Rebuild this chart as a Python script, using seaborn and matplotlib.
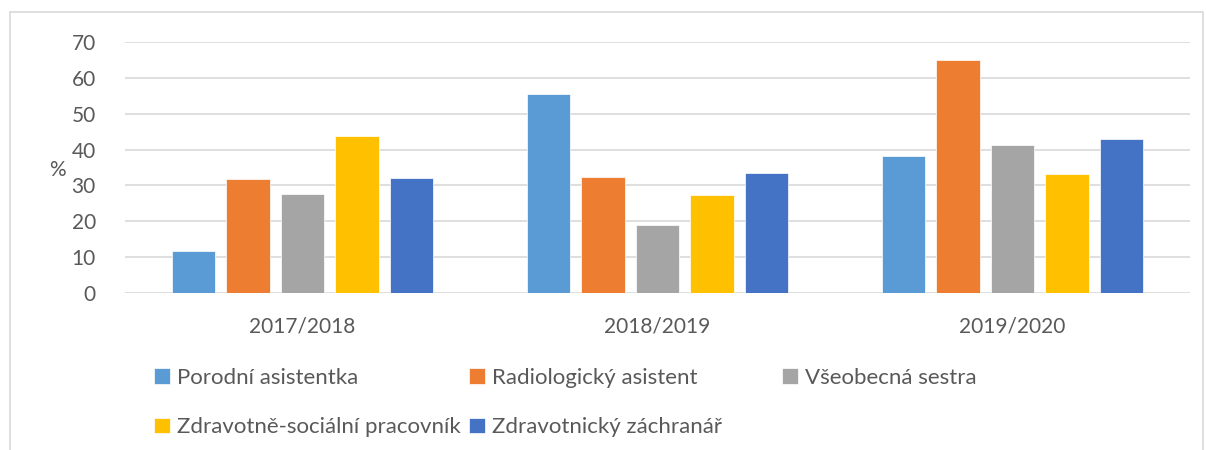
import numpy as np
import pandas as pd
import matplotlib
matplotlib.use("Agg")
import matplotlib.pyplot as plt
import seaborn as sns
from matplotlib.patches import Rectangle

# ============================================================
# DATA
# ============================================================

YEARS = ["2017/2018", "2018/2019", "2019/2020"]

PROFESSIONS = [
    "Porodní asistentka",
    "Radiologický asistent",
    "Všeobecná sestra",
    "Zdravotně-sociální pracovník",
    "Zdravotnický záchranář",
]

porodni = [11.7, 55.5, 38.1]
radiolog = [31.9, 32.4, 64.9]
vseobecna = [27.7, 19.1, 41.4]
zdrav_soc = [43.9, 27.3, 33.3]
zachranar = [32.2, 33.4, 42.9]

COLORS = ["#5B9BD5", "#ED7D31", "#A5A5A5", "#FFC000", "#4472C4"]

# ============================================================
# LONG FORM TABLE
# ============================================================

series = [porodni, radiolog, vseobecna, zdrav_soc, zachranar]
rows = []
for name, vals in zip(PROFESSIONS, series):
    for yr, v in zip(YEARS, vals):
        rows.append({"year": yr, "prof": name, "value": v})
df = pd.DataFrame(rows)

# ============================================================
# FIGURE
# ============================================================

sns.set_style("white")
plt.rcParams["font.family"] = ["Lato", "DejaVu Sans"]
TXT = "#595959"
FS_TICK = 15
FS_LEG = 16

fig = plt.figure(figsize=(12.06, 4.5), dpi=100)
ax = fig.add_axes([125 / 1206, 1 - 293 / 450, 1065 / 1206, 251 / 450])

# outer chart border
fig.patches.append(Rectangle((10 / 1206, -0.01), 1193 / 1206, 1 - 12 / 450 + 0.01,
                             transform=fig.transFigure, fill=False,
                             edgecolor="#D9D9D9", linewidth=1.2))

sns.barplot(
    data=df, x="year", y="value", hue="prof",
    order=YEARS, hue_order=PROFESSIONS,
    palette=COLORS, width=0.768, gap=0.21,
    edgecolor="white", linewidth=0.5,
    saturation=1, ax=ax,
)

ax.set_ylim(0, 70)
ax.set_yticks(np.arange(0, 71, 10))
ax.yaxis.grid(True, color="#D9D9D9", linewidth=1.2)
ax.set_axisbelow(True)
for s in ax.spines.values():
    s.set_visible(False)
ax.tick_params(axis="both", length=0, colors=TXT, labelsize=FS_TICK)
ax.tick_params(axis="x", pad=17)
ax.tick_params(axis="y", pad=21)
ax.set_xlabel("")
ax.set_ylabel("%", rotation=0, color=TXT, fontsize=FS_TICK)
ax.yaxis.set_label_coords(-0.063, 0.45)

# legend, laid out row-wise like the original in three columns
handles, labels = ax.get_legend_handles_labels()
ax.get_legend().remove()
cols = [[0, 3], [1, 4], [2]]
xs = [154 / 1206, 469 / 1206, 782 / 1206]
for x, idx in zip(xs, cols):
    leg = fig.legend(
        [handles[i] for i in idx], [labels[i] for i in idx],
        loc="upper left", bbox_to_anchor=(x, 1 - 368 / 450),
        frameon=False, fontsize=FS_LEG, handlelength=0.7, handleheight=0.7,
        handletextpad=0.35, labelspacing=1.32, borderaxespad=0, borderpad=0,
    )
    for t in leg.get_texts():
        t.set_color(TXT)

fig.savefig("out.png", dpi=100)
